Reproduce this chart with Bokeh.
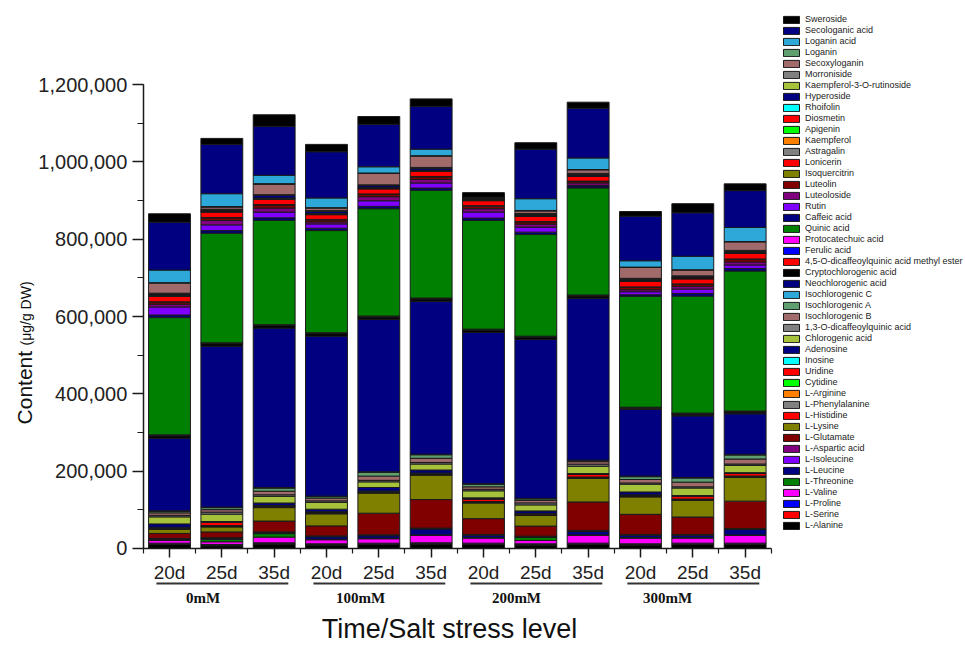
from bokeh.plotting import figure
from bokeh.models import (ColumnDataSource, Legend, LegendItem, Label, Arrow,
                          FixedTicker, SingleIntervalTicker, NumeralTickFormatter)
from bokeh.embed import file_html
from bokeh.resources import INLINE

# Sampling time for each bar, grouped by salt stress level
day_labels = ["20d", "25d", "35d", "20d", "25d", "35d",
              "20d", "25d", "35d", "20d", "25d", "35d"]
salt_levels = ["0mM", "100mM", "200mM", "300mM"]

# Content (µg/g DW) of every compound, one value per bar
l_alanine = [10400, 7000, 11400, 8800, 10400, 11400, 10400, 8800, 10400, 8800, 10400, 10400]
l_serine = [1300, 1300, 1300, 1300, 1300, 1300, 1300, 1300, 1300, 1300, 1300, 1300]
l_proline = [2100, 2100, 2100, 2100, 2100, 2100, 2100, 2100, 2100, 2100, 2100, 2100]
l_valine = [7000, 7000, 14600, 10400, 11400, 19000, 13000, 8600, 20000, 14600, 13000, 20000]
l_threonine = [1300, 6200, 9100, 1300, 1300, 1300, 1300, 7800, 1300, 1300, 1300, 1300]
l_leucine = [2100, 2600, 2600, 6500, 6500, 15600, 6200, 1300, 9100, 6200, 6200, 14300]
l_isoleucine = [800, 800, 800, 800, 800, 800, 800, 800, 800, 800, 800, 800]
l_aspartic_acid = [1000, 1000, 1000, 1300, 1600, 1300, 1300, 1300, 1800, 1300, 1300, 1300]
l_glutamate = [13000, 14800, 28100, 26000, 55900, 73800, 40800, 26000, 73600, 52000, 45000, 71000]
l_lysine = [10400, 13000, 34800, 31200, 52000, 63200, 40600, 27300, 60800, 45000, 42900, 61400]
l_histidine = [1300, 1300, 1300, 1300, 1300, 1300, 1300, 1300, 1300, 1300, 1300, 1300]
l_phenylalanine = [1300, 1300, 1300, 1300, 1300, 1300, 1300, 1300, 1300, 1300, 1300, 1300]
l_arginine = [500, 500, 500, 500, 500, 500, 500, 500, 500, 500, 500, 500]
cytidine = [500, 500, 500, 500, 500, 500, 500, 500, 500, 500, 500, 500]
uridine = [1300, 8600, 1300, 1300, 1300, 1300, 6500, 1300, 7300, 1300, 7300, 6800]
inosine = [500, 500, 500, 500, 500, 500, 500, 500, 500, 500, 500, 500]
adenosine = [8800, 1300, 6500, 6500, 9100, 7800, 2600, 6500, 1300, 7500, 1300, 1300]
chlorogenic_acid = [18200, 19000, 17400, 17700, 14600, 15600, 18200, 15600, 19000, 20000, 19500, 19000]
dcq_1_3 = [3900, 5200, 3900, 3900, 3900, 3900, 3900, 5200, 5200, 3100, 3100, 3400]
isochlorogenic_b = [6500, 6500, 9100, 7000, 10900, 10900, 6500, 6500, 6500, 9100, 12000, 13000]
isochlorogenic_a = [3900, 5200, 8300, 3900, 9900, 9100, 6500, 3900, 2600, 7300, 10400, 10400]
isochlorogenic_c = [1300, 1300, 1300, 1300, 1300, 1300, 1300, 1300, 1300, 1300, 1800, 1800]
neochlorogenic_acid = [187700, 416300, 412400, 413900, 394400, 395700, 391600, 411100, 418900, 173400, 159400, 104800]
cryptochlorogenic_acid = [6500, 6500, 6500, 6500, 6000, 6000, 6000, 6000, 6000, 2600, 4700, 4700]
dcq_4_5_methyl_ester = [800, 800, 800, 800, 800, 800, 800, 800, 800, 800, 800, 800]
ferulic_acid = [800, 800, 800, 800, 800, 800, 800, 800, 800, 800, 800, 800]
protocatechuic_acid = [800, 800, 800, 800, 800, 800, 800, 800, 800, 800, 800, 800]
quinic_acid = [303200, 283400, 269400, 264200, 277700, 278500, 281100, 262900, 276900, 287000, 302400, 362200]
caffeic_acid = [6800, 6800, 7000, 6000, 6000, 6000, 6200, 6200, 5200, 3900, 7000, 6500]
rutin = [20800, 14800, 14800, 11200, 14600, 13000, 15600, 13000, 1300, 7800, 11200, 9100]
luteoloside = [7000, 11200, 10400, 5200, 10400, 9100, 8600, 7800, 6500, 5200, 7000, 7800]
luteolin = [5200, 6500, 7800, 5200, 6000, 6500, 6500, 5700, 3900, 6500, 5200, 6500]
isoquercitrin = [1300, 1300, 1300, 1300, 1300, 1300, 1300, 1000, 800, 800, 1300, 1300]
lonicerin = [14300, 14000, 13800, 12200, 13000, 13000, 13000, 13000, 12200, 14300, 13000, 14300]
astragalin = [800, 800, 800, 800, 800, 800, 800, 800, 800, 800, 800, 800]
kaempferol = [500, 500, 500, 500, 500, 500, 500, 500, 500, 500, 500, 500]
apigenin = [500, 500, 500, 500, 500, 500, 500, 500, 500, 500, 500, 500]
diosmetin = [800, 800, 800, 800, 800, 800, 800, 800, 800, 800, 800, 800]
rhoifolin = [500, 500, 500, 500, 500, 500, 500, 500, 500, 500, 500, 500]
hyperoside = [2600, 2100, 6500, 5200, 5200, 5200, 1300, 2600, 2600, 2600, 2600, 2600]
kaempferol_3_o_rutinoside = [800, 800, 800, 800, 800, 800, 500, 800, 800, 800, 800, 800]
morroniside = [1300, 1300, 1300, 1300, 1300, 1300, 800, 1300, 1300, 1300, 1300, 1300]
secoxyloganin = [26000, 5700, 26800, 6500, 29400, 29100, 800, 6500, 9100, 28300, 15100, 22100]
loganin = [1300, 1300, 1800, 1300, 1300, 1300, 500, 1300, 800, 800, 800, 800]
loganin_acid = [32500, 33300, 21600, 25000, 16100, 16900, 800, 30400, 29900, 16400, 34800, 36400]
secologanic_acid = [124000, 127400, 126600, 119600, 110000, 110200, 1300, 128200, 128700, 115400, 112600, 95400]
sweroside = [21600, 15600, 29900, 19000, 20000, 19800, 11700, 16600, 15600, 12000, 23400, 17400]

# Stack order, bottom to top: (legend name, values, fill colour)
compounds = [
    ("L-Alanine", l_alanine, "#000000"),
    ("L-Serine", l_serine, "#FF0000"),
    ("L-Proline", l_proline, "#0000FF"),
    ("L-Valine", l_valine, "#FF00FF"),
    ("L-Threonine", l_threonine, "#008000"),
    ("L-Leucine", l_leucine, "#000080"),
    ("L-Isoleucine", l_isoleucine, "#8000FF"),
    ("L-Aspartic acid", l_aspartic_acid, "#800080"),
    ("L-Glutamate", l_glutamate, "#800000"),
    ("L-Lysine", l_lysine, "#808000"),
    ("L-Histidine", l_histidine, "#FF0000"),
    ("L-Phenylalanine", l_phenylalanine, "#808080"),
    ("L-Arginine", l_arginine, "#FF8000"),
    ("Cytidine", cytidine, "#00FF00"),
    ("Uridine", uridine, "#FF0000"),
    ("Inosine", inosine, "#00FFFF"),
    ("Adenosine", adenosine, "#000080"),
    ("Chlorogenic acid", chlorogenic_acid, "#A6C23A"),
    ("1,3-O-dicaffeoylquinic acid", dcq_1_3, "#808080"),
    ("Isochlorogenic B", isochlorogenic_b, "#A26B6B"),
    ("Isochlorogenic A", isochlorogenic_a, "#5F9E6F"),
    ("Isochlorogenic C", isochlorogenic_c, "#2EA8D8"),
    ("Neochlorogenic acid", neochlorogenic_acid, "#000080"),
    ("Cryptochlorogenic acid", cryptochlorogenic_acid, "#000000"),
    ("4,5-O-dicaffeoylquinic acid methyl ester", dcq_4_5_methyl_ester, "#FF0000"),
    ("Ferulic acid", ferulic_acid, "#0000FF"),
    ("Protocatechuic acid", protocatechuic_acid, "#FF00FF"),
    ("Quinic acid", quinic_acid, "#008000"),
    ("Caffeic acid", caffeic_acid, "#000080"),
    ("Rutin", rutin, "#8000FF"),
    ("Luteoloside", luteoloside, "#800080"),
    ("Luteolin", luteolin, "#800000"),
    ("Isoquercitrin", isoquercitrin, "#808000"),
    ("Lonicerin", lonicerin, "#FF0000"),
    ("Astragalin", astragalin, "#808080"),
    ("Kaempferol", kaempferol, "#FF8000"),
    ("Apigenin", apigenin, "#00FF00"),
    ("Diosmetin", diosmetin, "#FF0000"),
    ("Rhoifolin", rhoifolin, "#00FFFF"),
    ("Hyperoside", hyperoside, "#000080"),
    ("Kaempferol-3-O-rutinoside", kaempferol_3_o_rutinoside, "#A6C23A"),
    ("Morroniside", morroniside, "#808080"),
    ("Secoxyloganin", secoxyloganin, "#A26B6B"),
    ("Loganin", loganin, "#5F9E6F"),
    ("Loganin acid", loganin_acid, "#2EA8D8"),
    ("Secologanic acid", secologanic_acid, "#000080"),
    ("Sweroside", sweroside, "#000000"),
]

positions = list(range(len(day_labels)))
data = {"x": positions}
keys = []
for i, (name, vals, col) in enumerate(compounds):
    key = f"c{i}"
    keys.append(key)
    data[key] = vals
source = ColumnDataSource(data)

FONT = "Liberation Sans"

# The plotting frame fills the whole canvas; the axes are pinned with
# fixed_location so that titles, group labels and the legend can sit
# around the bars without being clipped.
p = figure(width=965, height=646,
           x_range=(-3.2295, 15.211), y_range=(-253500, 1417500),
           output_backend="svg", toolbar_location=None,
           min_border=0)
p.outline_line_color = None
p.grid.grid_line_color = None
p.background_fill_color = "white"
p.border_fill_color = "white"

renderers = p.vbar_stack(keys, x="x", width=0.8, source=source,
                         fill_color=[c[2] for c in compounds],
                         line_color="#1a1a1a", line_width=1)

# Axes
p.yaxis.fixed_location = -0.5
p.yaxis.bounds = (0, 1200000)
p.yaxis.ticker = SingleIntervalTicker(interval=200000, num_minor_ticks=2)
p.yaxis.formatter = NumeralTickFormatter(format="0,0")
p.yaxis.major_label_text_font = FONT
p.yaxis.major_label_text_font_size = "20px"
p.yaxis.major_label_text_color = "#222222"
p.yaxis.major_tick_out = 11
p.yaxis.major_tick_in = 0
p.yaxis.minor_tick_out = 6
p.yaxis.minor_tick_in = 0
p.yaxis.major_label_standoff = 5

p.xaxis.fixed_location = 0
p.xaxis.bounds = (-0.5, 11.5)
p.xaxis.ticker = FixedTicker(ticks=positions,
                             minor_ticks=[i - 0.5 for i in range(len(positions) + 1)])
p.xaxis.major_label_overrides = {i: lab for i, lab in enumerate(day_labels)}
p.xaxis.major_label_text_font = FONT
p.xaxis.major_label_text_font_size = "19px"
p.xaxis.major_label_text_color = "#222222"
p.xaxis.major_tick_out = 9
p.xaxis.major_tick_in = 0
p.xaxis.minor_tick_out = 5
p.xaxis.minor_tick_in = 0
p.xaxis.major_label_standoff = 5

for ax in (p.xaxis, p.yaxis):
    ax.axis_line_color = "#1a1a1a"
    ax.axis_line_width = 1.5
    ax.major_tick_line_color = "#1a1a1a"
    ax.major_tick_line_width = 1.5
    ax.minor_tick_line_color = "#1a1a1a"
    ax.minor_tick_line_width = 1.2

# Salt level groups: underline plus bold label beneath the day labels
group_label_x = [0.64, 3.65, 6.63, 9.52]
for g, level in enumerate(salt_levels):
    first, last = 3 * g, 3 * g + 2
    p.add_layout(Arrow(end=None, x_start=first - 0.25, x_end=last + 0.27,
                       y_start=-90500, y_end=-90500,
                       line_color="#333333", line_width=2))
    p.add_layout(Label(x=group_label_x[g], y=-129300, text=level,
                       text_font="Liberation Serif", text_font_style="bold",
                       text_font_size="15px", text_color="#111111",
                       text_align="center", text_baseline="middle"))

# Axis titles
p.add_layout(Label(x=5.35, y=-207000, text="Time/Salt stress level",
                   text_font=FONT, text_font_size="27px", text_color="#111111",
                   text_align="center", text_baseline="middle"))
p.add_layout(Label(x=-2.78, y=416000, text="Content", angle=90, angle_units="deg",
                   text_font=FONT, text_font_size="21px", text_color="#111111",
                   text_align="center", text_baseline="middle"))
p.add_layout(Label(x=-2.75, y=608000, text="(μg/g DW)", angle=90, angle_units="deg",
                   text_font=FONT, text_font_size="14px", text_color="#111111",
                   text_align="center", text_baseline="middle"))

# Legend, top entry is the top of the stack
items = [LegendItem(label=name, renderers=[r])
         for (name, _, _), r in reversed(list(zip(compounds, renderers)))]
legend = Legend(items=items, location=(781, 116), orientation="vertical",
                glyph_width=20, glyph_height=9, label_height=10, spacing=1,
                label_standoff=4, padding=0, margin=0,
                border_line_color=None, background_fill_alpha=0,
                label_text_font=FONT, label_text_font_size="9px",
                label_text_color="#222222")
p.add_layout(legend)

open("out.html", "w").write(file_html(p, INLINE))
